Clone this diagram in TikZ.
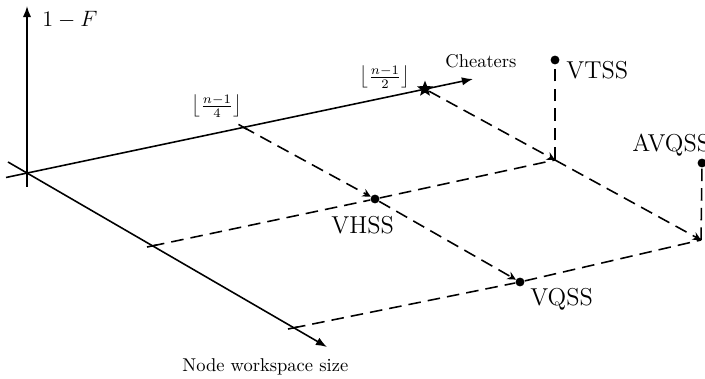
\documentclass[tikz,border=0pt]{standalone}
\usepackage{fontspec}
\usetikzlibrary{shapes.geometric,arrows.meta,calc}
\begin{document}
\begin{tikzpicture}[x=0.54pt,y=-0.54pt,
  axisline/.style={line width=0.85pt,-{Latex[length=6pt,width=4.5pt]}},
  tickline/.style={line width=0.85pt},
  guide/.style={line width=0.85pt,dash pattern=on 6.8pt off 3.8pt},
  guidearrow/.style={guide,-{Stealth[length=4.5pt,width=4.5pt]}},
  dot/.style={circle,fill=black,inner sep=0pt,minimum size=4.8pt},
  biglabel/.style={font=\fontsize{13.2}{15}\selectfont,inner sep=0pt},
  smalllabel/.style={inner sep=0pt}]
\useasboundingbox (0,0) rectangle (705,379);
% axes
\coordinate (O) at (27,173);
\coordinate (ys) at (27,187);
\coordinate (ye) at (27,6);
\coordinate (cs) at (6,177.5);
\coordinate (ce) at (473,79);
\coordinate (ws) at (8,162);
\coordinate (we) at (327,347);
\draw[axisline] (ys) -- (ye);
\draw[axisline] (cs) -- (ce);
\draw[axisline] (ws) -- (we);
% tick points
\coordinate (q) at (243,127);
\coordinate (t1) at (152,246);
\coordinate (t2) at (293,328);
\coordinate (p1) at (555,160);
\coordinate (p2) at (701,240);
\draw[tickline] ($(q)+(-4.5,-2.6)$) -- ($(q)+(4.5,2.6)$);
\draw[tickline] ($(t1)+(-5,1)$) -- ($(t1)+(5,-1)$);
\draw[tickline] ($(t2)+(-5,1)$) -- ($(t2)+(5,-1)$);
% star and points
\node[star,star points=5,star point ratio=2.3,fill=black,inner sep=0pt,minimum size=9pt] (star) at (425,89) {};
\node[dot] (vhss) at (375,199) {};
\node[dot] (vqss) at (520,282) {};
\node[dot] (vtss) at (555,60) {};
\node[dot] (avqss) at (702,163) {};
% guides
\draw[guidearrow] (q) -- (vhss);
\draw[guidearrow] (vhss) -- (vqss);
\draw[guidearrow] (star) -- (p1);
\draw[guidearrow] (p1) -- (p2);
\draw[guide] (t1) -- (vhss) -- (p1);
\draw[guide] (t2) -- (vqss) -- (p2);
\draw[guide] (p1) -- (vtss);
\draw[guide] (p2) -- (avqss);
% labels
\node[biglabel,anchor=base west] (lf) at (42,27) {$1-F$};
\node[smalllabel,anchor=base west] (lch) at (445,68) {Cheaters};
\node[smalllabel,anchor=base west] (lnw) at (182,371) {Node workspace size};
\node[smalllabel] (lq) at (217,106) {$\left\lfloor\frac{n-1}{4}\right\rfloor$};
\node[smalllabel] (lh) at (385,77) {$\left\lfloor\frac{n-1}{2}\right\rfloor$};
\node[biglabel,anchor=base west] (lvtss) at (566,79) {VTSS};
\node[biglabel,anchor=base west] (lavqss) at (632,152) {AVQSS};
\node[biglabel,anchor=base west] (lvhss) at (331,234) {VHSS};
\node[biglabel,anchor=base west] (lvqss) at (530,305) {VQSS};
\end{tikzpicture}
\end{document}
